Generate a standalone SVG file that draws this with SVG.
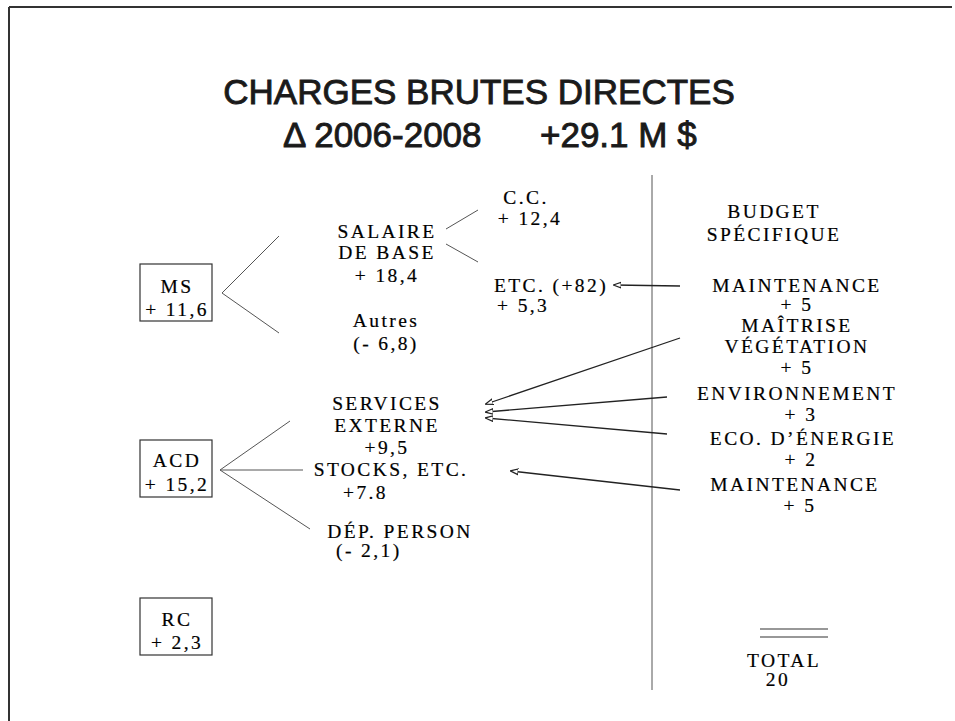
<svg xmlns="http://www.w3.org/2000/svg" width="955" height="721" viewBox="0 0 955 721">
<style>
.t{font-family:"Liberation Serif","Times New Roman",serif;font-size:19.5px;fill:#000;stroke:#000;stroke-width:0.2;letter-spacing:2.4px}
.m{text-anchor:middle}
.h{font-family:"Liberation Sans",Arial,sans-serif;font-size:35px;fill:#1a1a1a;stroke:#1a1a1a;stroke-width:0.9}
.box{fill:none;stroke:#333;stroke-width:1.2}
.ln{stroke:#555;stroke-width:1;fill:none}
.ar{stroke:#222;stroke-width:1.3;fill:none;marker-end:url(#ah)}
</style>
<defs>
<marker id="ah" viewBox="0 0 10 10" refX="9" refY="5" markerWidth="8" markerHeight="8" markerUnits="userSpaceOnUse" orient="auto">
<path d="M0,1.5 L10,5 L0,8.5 Z" fill="#fff" stroke="#222" stroke-width="1.5"/>
</marker>
</defs>
<rect width="955" height="721" fill="#fff"/>
<g id="frame">
<line x1="9" y1="7" x2="952" y2="7" stroke="#333" stroke-width="2"/>
<line x1="9" y1="7" x2="9" y2="721" stroke="#333" stroke-width="2"/>
</g>
<g id="title">
<text class="h m" x="479" y="104">CHARGES BRUTES DIRECTES</text>
<text class="h" x="283" y="147">Δ 2006-2008</text>
<text class="h" x="540" y="147">+29.1 M $</text>
</g>
<g id="connectors">
<line class="ln" x1="652" y1="175" x2="652" y2="690"/>
<line class="ln" x1="222" y1="293" x2="279" y2="236"/>
<line class="ln" x1="222" y1="293" x2="279" y2="333"/>
<line class="ln" x1="446" y1="229" x2="478" y2="210"/>
<line class="ln" x1="446" y1="244" x2="478" y2="262"/>
<line class="ln" x1="220" y1="470" x2="290" y2="421"/>
<line class="ln" x1="220" y1="470" x2="303" y2="470"/>
<line class="ln" x1="220" y1="470" x2="310" y2="529"/>
<line class="ar" x1="680" y1="286" x2="614" y2="285"/>
<line class="ar" x1="680" y1="338" x2="486" y2="404"/>
<line class="ar" x1="667" y1="397" x2="486" y2="412"/>
<line class="ar" x1="667" y1="434" x2="486" y2="418"/>
<line class="ar" x1="680" y1="490" x2="511" y2="471"/>
<line x1="760" y1="629" x2="828" y2="629" stroke="#333" stroke-width="1.2"/>
<line x1="760" y1="637" x2="828" y2="637" stroke="#333" stroke-width="1.2"/>
</g>
<g id="ms">
<rect class="box" x="140" y="264" width="72" height="57"/>
<text class="t m" x="177" y="293">MS</text>
<text class="t m" x="177" y="316">+ 11,6</text>
</g>
<g id="acd">
<rect class="box" x="140" y="440" width="72" height="57"/>
<text class="t m" x="177" y="467">ACD</text>
<text class="t m" x="177" y="491">+ 15,2</text>
</g>
<g id="rc">
<rect class="box" x="140" y="598" width="72" height="57"/>
<text class="t m" x="177" y="626">RC</text>
<text class="t m" x="177" y="649">+ 2,3</text>
</g>
<g id="salaire">
<text class="t m" x="387" y="238">SALAIRE</text>
<text class="t m" x="387" y="259">DE BASE</text>
<text class="t m" x="387" y="282">+ 18,4</text>
</g>
<g id="autres">
<text class="t m" x="386" y="327">Autres</text>
<text class="t m" x="386" y="350">(- 6,8)</text>
</g>
<g id="cc">
<text class="t m" x="526" y="204">C.C.</text>
<text class="t m" x="530" y="225">+ 12,4</text>
</g>
<g id="etc">
<text class="t" x="494" y="292">ETC. (+82)</text>
<text class="t" x="497" y="312">+ 5,3</text>
</g>
<g id="services">
<text class="t m" x="387" y="410">SERVICES</text>
<text class="t m" x="387" y="432">EXTERNE</text>
<text class="t m" x="387" y="454">+9,5</text>
</g>
<g id="stocks">
<text class="t m" x="391" y="476">STOCKS, ETC.</text>
<text class="t" x="343" y="499">+7.8</text>
</g>
<g id="dep">
<text class="t m" x="400" y="538">DÉP. PERSON</text>
<text class="t" x="336" y="557">(- 2,1)</text>
</g>
<g id="budget">
<text class="t m" x="774" y="218">BUDGET</text>
<text class="t m" x="774" y="241">SPÉCIFIQUE</text>
</g>
<g id="maintenance1">
<text class="t m" x="797" y="292">MAINTENANCE</text>
<text class="t m" x="797" y="311">+ 5</text>
</g>
<g id="maitrise">
<text class="t m" x="797" y="332">MAÎTRISE</text>
<text class="t m" x="797" y="353">VÉGÉTATION</text>
<text class="t m" x="797" y="374">+ 5</text>
</g>
<g id="environnement">
<text class="t m" x="797" y="400">ENVIRONNEMENT</text>
<text class="t m" x="801" y="421">+ 3</text>
</g>
<g id="eco">
<text class="t m" x="803" y="445">ECO. D’ÉNERGIE</text>
<text class="t m" x="801" y="466">+ 2</text>
</g>
<g id="maintenance2">
<text class="t m" x="795" y="491">MAINTENANCE</text>
<text class="t m" x="800" y="512">+ 5</text>
</g>
<g id="total">
<text class="t m" x="784" y="667">TOTAL</text>
<text class="t m" x="778" y="686">20</text>
</g>
</svg>
